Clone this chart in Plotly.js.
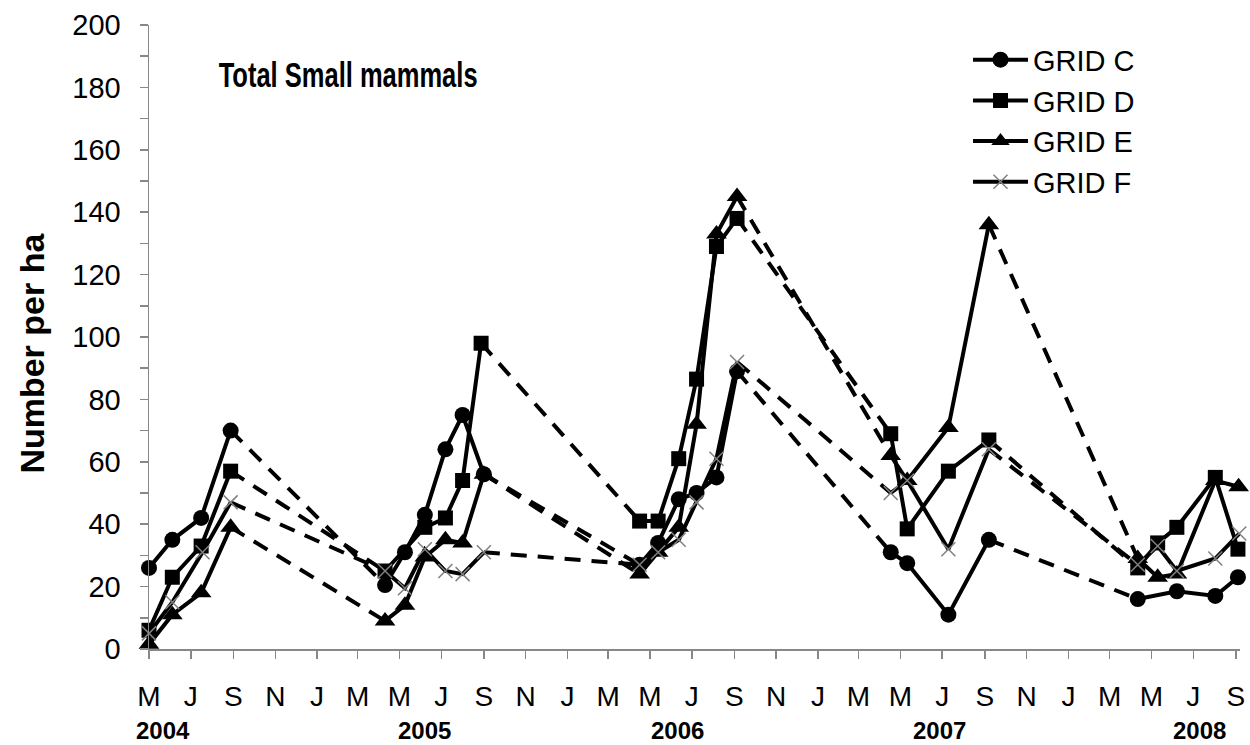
<!DOCTYPE html>
<html><head><meta charset="utf-8">
<script src="https://cdn.plot.ly/plotly-3.0.1.min.js"></script>
<style>html,body{margin:0;padding:0;background:#fff}#chart{width:1250px;height:745px}</style>
</head><body><div id="chart"></div>
<script>
const gridNames = ['GRID C', 'GRID D', 'GRID E', 'GRID F'];

const gridCDates = ['2004-05-01','2004-06-04','2004-07-16','2004-08-28',
  '2005-04-10','2005-05-09','2005-06-07','2005-07-07','2005-08-01','2005-09-01',
  '2006-04-16','2006-05-13','2006-06-12','2006-07-08','2006-08-06','2006-09-05',
  '2007-04-17','2007-05-11','2007-07-10','2007-09-07',
  '2008-04-11','2008-06-07','2008-08-02','2008-09-04'];
const gridCValues = [26, 35, 42, 70,
  20.5, 31, 43, 64, 75, 56,
  27, 34, 48, 50, 55, 89,
  31, 27.5, 11, 35,
  16, 18.5, 17, 23];

const gridDDates = ['2004-05-01','2004-06-04','2004-07-16','2004-08-28',
  '2005-04-10','2005-06-07','2005-07-07','2005-08-01','2005-08-28',
  '2006-04-16','2006-05-13','2006-06-12','2006-07-08','2006-08-06','2006-09-05',
  '2007-04-17','2007-05-11','2007-07-10','2007-09-07',
  '2008-04-11','2008-05-10','2008-06-07','2008-08-02','2008-09-04'];
const gridDValues = [6, 23, 33, 57,
  25, 39, 42, 54, 98,
  41, 41, 61, 86.5, 129, 138,
  69, 38.5, 57, 67,
  26, 34, 39, 55, 32];

const gridEDates = ['2004-05-01','2004-06-04','2004-07-16','2004-08-28',
  '2005-04-10','2005-05-09','2005-06-07','2005-07-07','2005-08-01','2005-09-01',
  '2006-04-16','2006-05-13','2006-06-12','2006-07-08','2006-08-06','2006-09-05',
  '2007-04-17','2007-05-11','2007-07-10','2007-09-07',
  '2008-04-11','2008-05-10','2008-06-07','2008-08-02','2008-09-05'];
const gridEValues = [1.5, 11, 18, 39,
  9, 14, 29.5, 35, 34, 56,
  24, 31, 39, 72, 133, 145,
  62, 54, 71, 136,
  29, 23, 24, 54, 52];

const gridFDates = ['2004-05-01','2004-06-04','2004-07-18','2004-08-28',
  '2005-04-10','2005-05-09','2005-06-07','2005-07-07','2005-08-01','2005-09-01',
  '2006-04-16','2006-05-13','2006-06-12','2006-07-08','2006-08-06','2006-09-05',
  '2007-04-17','2007-05-11','2007-07-10','2007-09-07',
  '2008-04-11','2008-05-10','2008-06-07','2008-08-02','2008-09-06'];
const gridFValues = [5, 15, 31, 47,
  25, 19.5, 32, 25, 24, 31,
  27, 31, 35, 47, 61, 92,
  50, 54, 32, 64,
  27, 33, 25, 29, 37];

const tickDates = ['2004-05-01','2004-07-01','2004-09-01','2004-11-01','2005-01-01','2005-03-01',
  '2005-05-01','2005-07-01','2005-09-01','2005-11-01','2006-01-01','2006-03-01',
  '2006-05-01','2006-07-01','2006-09-01','2006-11-01','2007-01-01','2007-03-01',
  '2007-05-01','2007-07-01','2007-09-01','2007-11-01','2008-01-01','2008-03-01',
  '2008-05-01','2008-07-01','2008-09-01'];
const tickLetters = ['M','J','S','N','J','M',
  'M','J','S','N','J','M',
  'M','J','S','N','J','M',
  'M','J','S','N','J','M',
  'M','J','S'];

const yearLabels = ['2004', '2005', '2006', '2007', '2008'];
const yearLabelDates = ['2004-05-22', '2005-06-07', '2006-06-10', '2007-06-27', '2008-07-10'];

const chartTitle = 'Total Small mammals';
const yTitle = 'Number per ha';

const FONT = 'Liberation Sans, Arial, sans-serif';

function split(dates, vals) {
  const sx = [], sy = [], dx = [], dy = [];
  let prevYear = null, lx = null, ly = null;
  for (let i = 0; i < dates.length; i++) {
    const yr = dates[i].slice(0, 4);
    if (prevYear !== null && yr !== prevYear) {
      sx.push(null); sy.push(null);
      dx.push(lx, dates[i], null); dy.push(ly, vals[i], null);
    }
    sx.push(dates[i]); sy.push(vals[i]);
    prevYear = yr; lx = dates[i]; ly = vals[i];
  }
  return { sx, sy, dx, dy };
}

const series = [
  { name: gridNames[0], d: gridCDates, v: gridCValues, marker: { symbol: 'circle', size: 16, color: '#000' } },
  { name: gridNames[1], d: gridDDates, v: gridDValues, marker: { symbol: 'square', size: 15, color: '#000' } },
  { name: gridNames[2], d: gridEDates, v: gridEValues, marker: { symbol: 'triangle-up', size: 18, color: '#000' } },
  { name: gridNames[3], d: gridFDates, v: gridFValues, marker: { symbol: 'x-thin', size: 14, color: '#808080', line: { color: '#808080', width: 1.5 } } }
];

const dashTraces = [], solidTraces = [];
series.forEach((s, i) => {
  const p = split(s.d, s.v);
  dashTraces.push({
    type: 'scatter', mode: 'lines', x: p.dx, y: p.dy, showlegend: false, hoverinfo: 'skip',
    line: { color: '#000', width: 4, dash: '16px,11px' }, connectgaps: false, cliponaxis: false
  });
  solidTraces.push({
    type: 'scatter', mode: 'lines+markers', name: s.name, x: p.sx, y: p.sy,
    line: { color: '#000', width: 4 }, marker: s.marker, connectgaps: false, cliponaxis: false,
    legendgroup: 'g' + i, legendrank: i + 1
  });
});

const annotations = [
  { text: '<b>' + chartTitle + '</b>', xref: 'paper', yref: 'paper', x: 0.0626, y: 0.92,
    xanchor: 'left', yanchor: 'middle', showarrow: false, font: { family: FONT, size: 35, color: '#000' } },
  { text: '<b>' + yTitle + '</b>', xref: 'paper', yref: 'paper', x: -0.1076, y: 0.5, yshift: -16, textangle: -90,
    xanchor: 'center', yanchor: 'middle', showarrow: false, font: { family: FONT, size: 34, color: '#000' } }
];
yearLabels.forEach((t, i) => annotations.push({
  text: '<b>' + t + '</b>', xref: 'x', yref: 'paper', x: yearLabelDates[i], y: 0, yshift: -81,
  xanchor: 'center', yanchor: 'middle', showarrow: false, font: { family: FONT, size: 24, color: '#000' }
}));

const layout = {
  width: 1250, height: 745,
  margin: { l: 149, r: 10, t: 25, b: 96 },
  paper_bgcolor: '#fff', plot_bgcolor: '#fff',
  font: { family: FONT, color: '#000' },
  showlegend: true,
  legend: { x: 0.7507, y: 0.985, xanchor: 'left', yanchor: 'top', bgcolor: 'rgba(0,0,0,0)',
    font: { family: FONT, size: 29, color: '#000' }, tracegroupgap: 0, itemwidth: 55 },
  xaxis: {
    type: 'date', range: ['2004-05-01', '2008-09-07'],
    tickmode: 'array', tickvals: tickDates, ticktext: tickLetters,
    ticks: 'outside', ticklen: 8, tickcolor: '#888', tickwidth: 1.5,
    showline: true, linecolor: '#888', linewidth: 1.5, showgrid: false, zeroline: false,
    tickfont: { family: FONT, size: 28, color: '#000' }, ticklabelstandoff: 14
  },
  yaxis: {
    range: [0, 200], tick0: 0, dtick: 20,
    ticks: 'outside', ticklen: 8, tickcolor: '#888', tickwidth: 1.5,
    minor: { dtick: 10, ticks: 'outside', ticklen: 8, tickcolor: '#888', tickwidth: 1.5, showgrid: false },
    showline: true, linecolor: '#888', linewidth: 1.5, showgrid: false, zeroline: false,
    tickfont: { family: FONT, size: 29, color: '#000' }, ticklabelstandoff: 13
  },
  annotations: annotations
};

Plotly.newPlot('chart', dashTraces.concat(solidTraces), layout, { displayModeBar: false, staticPlot: true })
  .then(gd => {
    // the reference title is set in a condensed face: narrow it horizontally around its left edge
    const ann = gd.querySelectorAll('.annotation')[0];
    const tg = ann && ann.querySelector('.annotation-text-g');
    if (tg) {
      const bb = tg.getBBox();
      const sx = 261 / bb.width;
      const prev = tg.getAttribute('transform') || '';
      tg.setAttribute('transform', 'translate(' + bb.x + ',0) scale(' + sx + ',1) translate(' + (-bb.x) + ',0) ' + prev);
    }
  });
</script>
</body></html>
